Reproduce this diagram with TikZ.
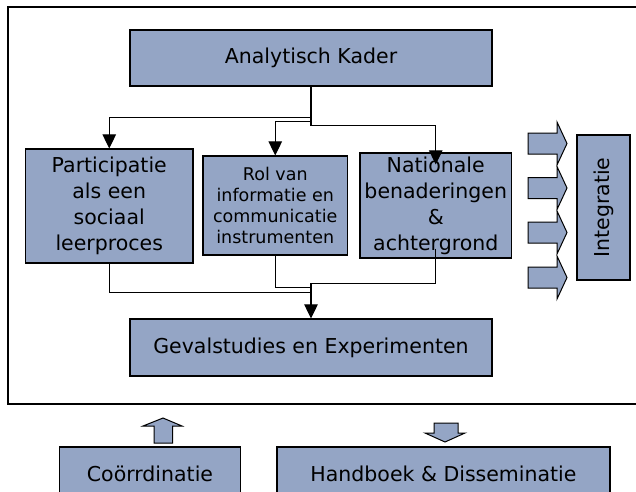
\documentclass[tikz,border=0pt]{standalone}
\usepackage{fontspec}
\setmainfont{DejaVu Sans}
\usetikzlibrary{arrows.meta}
\definecolor{boxblue}{RGB}{148,165,197}
\tikzset{
  blok/.style={draw=black, line width=1.2pt, fill=boxblue, align=center, inner sep=0pt,
    font=\fontsize{20.5}{26}\selectfont},
  link/.style={line width=1.1pt, -{Triangle[width=13.5pt,length=14pt]}},
  merge/.style={line width=0.9pt},
  pijl/.style={draw=black, line width=1pt, fill=boxblue},
}

\begin{document}
\begin{tikzpicture}[x=1pt,y=1pt,yscale=-1,xscale=1]
	\useasboundingbox (0,0) rectangle (636,491);
	\clip (0,0) rectangle (636,491);
	
	%Frame
	\draw [line width=1.2pt] (8,7) rectangle (660,404);
	
	% Boxes
	\node [blok, minimum width=362pt, minimum height=56pt] (kader) at (311,58) {Analytisch Kader};
	\node [blok, minimum width=167.5pt, minimum height=114pt] (part) at (109.25,206) {Participatie\\als een\\sociaal\\leerproces};
	\node [blok, minimum width=144.5pt, minimum height=99pt, font=\fontsize{17.5}{21}\selectfont] (rol) at (275.25,205.5) {Rol van\\informatie en\\communicatie\\instrumenten};
	\node [blok, minimum width=151.5pt, minimum height=105pt] (nat) at (435.75,205.5) {Nationale\\benaderingen\\\&\\achtergrond};
	\node [blok, minimum width=362pt, minimum height=57pt] (gev) at (311,347.5) {Gevalstudies en Experimenten};
	\node [blok, rotate=90, minimum width=145pt, minimum height=53pt] (integ) at (603.5,207.5) {Integratie};
	\node [blok, minimum width=181pt, minimum height=53pt] (coord) at (150,473.5) {Coörrdinatie};
	\node [blok, minimum width=333pt, minimum height=53pt] (hand) at (443.5,473.5) {Handboek \& Disseminatie};
	
	% Connectors
	\coordinate (natin) at ([yshift=12pt]nat.north);
	\coordinate (samen) at (311,283);
	\draw [link] (kader.south) -- ++(0,31) -| (part.north);
	\draw [link] (kader.south) -- ++(0,35) -| (rol.north);
	\draw [link] (kader.south) -- ++(0,39) -| (natin);
	\draw [merge] (part.south) |- ([yshift=9pt]samen);
	\draw [merge] (rol.south) |- ([yshift=4pt]samen);
	\draw [merge] ([yshift=-10pt]nat.south) |- (samen);
	\draw [link] (samen) -- (gev.north);
	
	% Block arrows to Integratie
	\foreach \y in {143.5,188,232.5,277.5}
	  \draw [pijl] (528,\y-10.5) -- (557,\y-10.5) -- (557,\y-21.5) -- (567,\y) -- (557,\y+21.5) -- (557,\y+10.5) -- (528,\y+10.5) -- cycle;
	
	% Up and down arrows
	\draw [pijl] (154,443) -- (154,426) -- (143,426) -- (163,418) -- (182,426) -- (172.5,426) -- (172.5,443) -- cycle;
	\draw [pijl] (434,423) -- (458,423) -- (458,433) -- (465,433) -- (445,442) -- (425,433) -- (434,433) -- cycle;
	
\end{tikzpicture}
\end{document}
